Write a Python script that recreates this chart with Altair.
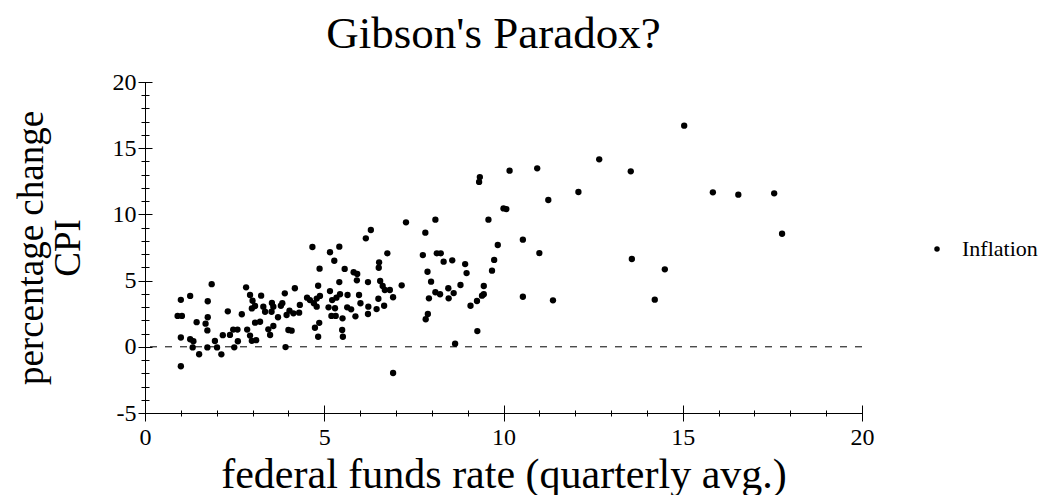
import altair as alt
import pandas as pd

# ---- data ----
FED_FUNDS = [
    0.91, 1.03, 1.00, 1.26, 1.00, 1.00, 1.26, 1.35, 1.33, 1.51, 1.44, 1.69, 1.75, 1.75, 1.86, 1.74, 1.74,
    1.95, 2.01, 2.13, 2.17, 2.31, 2.37, 2.46, 2.49, 2.59, 2.58, 2.70, 2.82, 2.85, 2.93, 2.98, 3.10, 2.93,
    3.00, 3.07, 2.98,
    3.07, 3.21, 3.24, 3.30, 3.35, 3.44, 3.49, 3.58, 3.54, 3.58, 3.53, 3.71, 3.79, 3.83, 3.90, 4.03, 3.95,
    4.14, 4.30, 4.00, 4.09, 3.92, 4.18, 4.32, 4.52, 4.60, 4.67, 4.71, 4.79, 4.88, 4.79, 4.86, 4.74, 4.83,
    4.83, 4.87, 5.16, 5.28, 5.42, 5.16, 5.22, 5.34, 5.44, 5.42, 5.12, 5.30, 5.20, 5.32, 5.50, 5.52, 5.51,
    5.57, 5.65, 5.64, 5.75, 5.87, 5.82, 5.92, 5.91, 5.97, 6.01, 6.16, 6.30, 6.22, 6.23, 6.46, 6.22, 6.53,
    6.52, 6.56, 6.63, 6.69, 6.83, 6.51, 6.67, 6.92, 7.16, 6.76, 7.28, 6.92,
    8.10, 7.82, 9.58, 10.00, 10.08, 10.54, 11.00, 9.84, 7.75, 8.14, 8.25, 8.33, 8.57, 8.93, 9.74, 8.97,
    9.68, 7.88, 7.98, 8.10, 8.23, 7.92, 8.46, 8.47, 8.61, 8.80, 9.45, 9.45, 9.40, 9.08, 9.26, 10.54, 11.38,
    7.89, 7.83, 9.27, 8.65, 9.34, 9.32, 10.17, 10.94, 12.67, 13.55, 11.25, 12.09, 15.04, 15.84, 16.55,
    17.55, 17.77, 13.58, 14.50, 14.22,
]
INFLATION = [
    2.33, 2.33, 3.55, 3.84, 0.70, -1.47, 0.57, 0.42, -0.05, -0.56, 1.86, 1.75, 2.23, 3.44, 4.73, 1.24, -0.05,
    0.44, -0.05, -0.57, 0.88, 2.68, 0.90, 1.30, -0.04, 0.42, 1.30, 2.46, 4.49, 1.30, 0.85, 0.45, 0.50, 3.91,
    3.48, 3.08, 2.90,
    1.82, 1.89, 3.86, 3.03, 2.65, 1.32, 0.89, 1.57, 3.31, 3.03, 2.65, 2.23, 3.10, 3.29, 4.04, 2.73, 2.40,
    2.53, 2.58, 1.27, 1.22, -0.02, 4.42, 3.16, 3.71, 3.53, 7.54, 3.29, 3.64, 3.84, 3.03, 1.81, 1.44, 0.76,
    4.61, 5.90, 7.14, 6.50, 7.56, 4.21, 3.53, 3.71, 3.97, 4.89, 2.98, 2.91, 2.33, 2.33, 1.27, 0.76, 2.15,
    5.88, 3.91, 2.98, 2.83, 2.30, 5.63, 5.50, 5.02, 3.91, 3.29, 8.19, 8.82, 4.89, 3.03, 2.85, 2.48, 6.38,
    5.97, 4.97, 4.59, 4.29, 4.29, 3.63, 3.10, 3.74, 4.64, 7.06, 9.40, -1.98,
    9.60, 8.62, 9.60, 10.45, 10.40, 8.09, 7.08, 7.69, 6.93, 7.06, 7.06, 6.43, 6.53, 6.25, 6.56, 5.57,
    5.75, 5.67, 4.92, 4.12, 3.97, 3.66, 4.42, 3.66, 4.06, 4.67, 4.59, 3.97, 3.86, 3.10, 3.46, 3.78, 3.51,
    2.48, 2.08, 1.19, 0.23, 12.82, 12.45, 13.30, 13.48, 14.16, 13.25, 11.09, 11.69, 16.70, 11.67, 11.49,
    11.59, 8.54, 6.63, 5.85, 3.56,
]
SERIES = "Inflation"
TITLE = "Gibson's Paradox?"
X_TITLE = "federal funds rate (quarterly avg.)"
Y_TITLE = ["percentage change", "CPI"]
X_MAJOR = [0, 5, 10, 15, 20]
X_MINOR = list(range(0, 21))
Y_MAJOR = [-5, 0, 5, 10, 15, 20]
Y_MINOR = list(range(-5, 21))
ZERO_LINE = [0]

FONT = "Liberation Serif"
W, H = 717, 331

df = pd.DataFrame({"ffr": FED_FUNDS, "infl": INFLATION, "series": SERIES})
zero_df = pd.DataFrame({"y": ZERO_LINE})

xs = alt.Scale(domain=[0, 20], nice=False, zero=False)
ys = alt.Scale(domain=[-5, 20], nice=False, zero=False)

main_x = alt.Axis(
    orient="bottom", values=X_MAJOR, ticks=False, tickSize=0, domain=True, domainColor="black",
    domainWidth=1, grid=False, labelFont=FONT, labelFontSize=24, labelColor="black", labelPadding=12,
    labelFlush=False, labelOverlap=False, labelExpr="'' + datum.value",
    title=X_TITLE, titleFont=FONT, titleFontSize=42, titleFontWeight="normal", titleColor="black",
    titleX=W / 2, titleY=74, titleAlign="center", titleBaseline="alphabetic",
)
main_y = alt.Axis(
    orient="left", values=Y_MAJOR, ticks=False, tickSize=0, domain=True, domainColor="black",
    domainWidth=1, grid=False, labelFont=FONT, labelFontSize=24, labelColor="black", labelPadding=9,
    labelFlush=False, labelOverlap=False, labelExpr="'' + datum.value",
    title=Y_TITLE, titleFont=FONT, titleFontSize=37, titleFontWeight="normal", titleColor="black",
    titleAngle=270, titleX=-114, titleY=H / 2, titleAlign="center", titleBaseline="middle",
    titleLineHeight=37,
)


def tick_x(values, size):
    return alt.Axis(orient="bottom", values=values, tickSize=size, offset=-size / 2, domain=False,
                    labels=False, grid=False, title=None, tickColor="black", tickWidth=1)


def tick_y(values, size):
    return alt.Axis(orient="left", values=values, tickSize=size, offset=-size / 2, domain=False,
                    labels=False, grid=False, title=None, tickColor="black", tickWidth=1)


zero = alt.Chart(zero_df).mark_rule(color="black", strokeWidth=1, strokeDash=[7, 8]).encode(
    y=alt.Y("y:Q", scale=ys, axis=None)
)

points = alt.Chart(df).mark_circle(size=40, opacity=1).encode(
    x=alt.X("ffr:Q", scale=xs, axis=main_x),
    y=alt.Y("infl:Q", scale=ys, axis=main_y),
    color=alt.Color(
        "series:N",
        scale=alt.Scale(domain=[SERIES], range=["black"]),
        legend=alt.Legend(
            title=None, orient="none", legendX=781, legendY=156, padding=0,
            symbolType="circle", symbolSize=30, symbolFillColor="black", symbolStrokeWidth=0,
            labelFont=FONT, labelFontSize=22, labelColor="black", labelOffset=14,
        ),
    ),
)

major = alt.Chart(df).mark_point(opacity=0).encode(
    x=alt.X("ffr:Q", scale=xs, axis=tick_x(X_MAJOR, 16)),
    y=alt.Y("infl:Q", scale=ys, axis=tick_y(Y_MAJOR, 14)),
)
minor = alt.Chart(df).mark_point(opacity=0).encode(
    x=alt.X("ffr:Q", scale=xs, axis=tick_x(X_MINOR, 6)),
    y=alt.Y("infl:Q", scale=ys, axis=tick_y(Y_MINOR, 8)),
)

chart = (
    alt.layer(zero, points, major, minor)
    .resolve_axis(x="independent", y="independent")
    .properties(
        width=W,
        height=H,
        title=alt.TitleParams(TITLE, font=FONT, fontSize=45, fontWeight="normal", color="black",
                              anchor="middle", frame="group", offset=13, dx=-10),
        autosize=alt.AutoSizeParams(type="none"),
        padding={"left": 137, "top": 74, "right": 177, "bottom": 82},
        background="white",
    )
    .configure_view(stroke=None)
)

chart.save("out.html", embed_options={"renderer": "svg", "actions": False})
